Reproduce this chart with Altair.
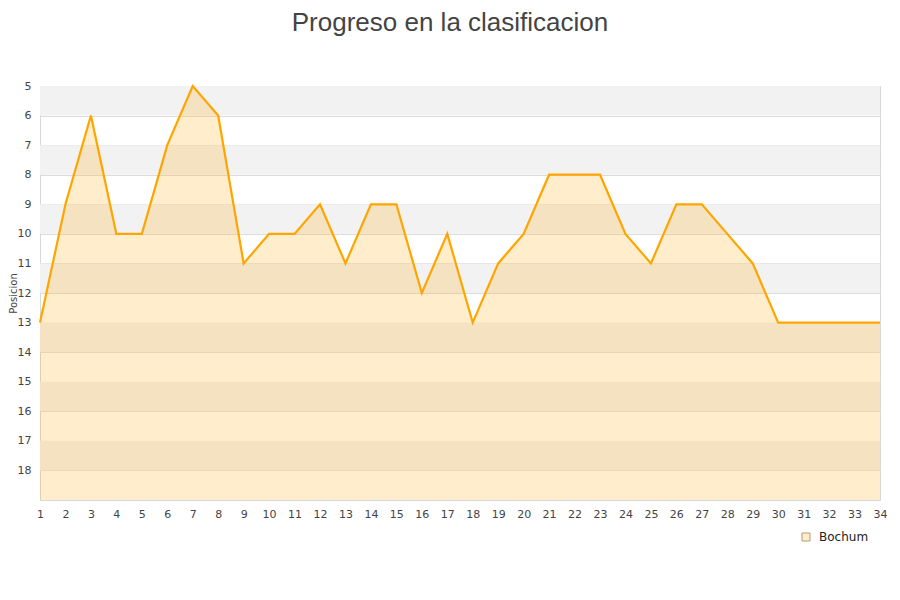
import altair as alt
import pandas as pd

jornadas = list(range(1, 35))
posiciones = [13, 9, 6, 10, 10, 7, 5, 6, 11, 10, 10, 9, 11, 9, 9, 12, 10, 13,
              11, 10, 8, 8, 8, 10, 11, 9, 9, 10, 11, 13, 13, 13, 13, 13]
equipo = "Bochum"
y_ticks = list(range(5, 19))
band_starts = [5, 7, 9, 11, 13, 15, 17]

df = pd.DataFrame({"Jornada": jornadas, "Posicion": posiciones, "Equipo": [equipo] * len(jornadas)})
bands = pd.DataFrame({"y": band_starts, "y2": [b + 1 for b in band_starts]})

W, H = 840, 414
xscale = alt.Scale(domain=[1, 34], nice=False, zero=False)
yscale = alt.Scale(domain=[19, 5], nice=False, zero=False)

yaxis = alt.Axis(values=y_ticks, title="Posicion", grid=True, gridColor="#dcdcdc",
                 ticks=False, domain=False, labelPadding=9, labelOverlap=False,
                 labelFlush=False, labelBound=False,
                 titleX=-26.5, titleY=H / 2, titleAngle=270, titleAlign="center",
                 titleBaseline="middle", titleFontSize=10)
xaxis = alt.Axis(values=jornadas, title=None, grid=False, ticks=False, domain=False,
                 labelPadding=8, labelOverlap=False, labelFlush=False, labelBound=False)

band_layer = alt.Chart(bands).mark_rect(color="#f2f2f2").encode(
    x=alt.value(0), x2=alt.value(W),
    y=alt.Y("y:Q", scale=yscale, axis=yaxis),
    y2="y2:Q",
)

area = alt.Chart(df).mark_area(color="#FFA500", opacity=0.2).encode(
    x=alt.X("Jornada:Q", scale=xscale, axis=xaxis),
    y=alt.Y("Posicion:Q", scale=yscale, axis=yaxis),
    y2=alt.datum(19),
)

line = alt.Chart(df).mark_line(color="#FFA500", strokeWidth=2.2).encode(
    x=alt.X("Jornada:Q", scale=xscale, axis=xaxis),
    y=alt.Y("Posicion:Q", scale=yscale, axis=yaxis),
)

legend_layer = alt.Chart(df).mark_point(opacity=0).encode(
    x=alt.X("Jornada:Q", scale=xscale, axis=xaxis),
    y=alt.Y("Posicion:Q", scale=yscale, axis=yaxis),
    fill=alt.Fill("Equipo:N",
                  scale=alt.Scale(domain=[equipo], range=["#FFEDCC"]),
                  legend=alt.Legend(title=None, orient="none", legendX=760, legendY=445,
                                    symbolType="square", symbolSize=64, symbolStrokeColor="#b39a7a",
                                    symbolStrokeWidth=1, symbolOpacity=1, labelFontSize=12,
                                    labelFont="DejaVu Sans", labelColor="#222", labelOffset=7)),
)

chart = alt.layer(band_layer, area, line, legend_layer).properties(
    width=W, height=H,
    title=alt.TitleParams("Progreso en la clasificacion", fontSize=26, font="Liberation Sans",
                          fontWeight="normal", color="#444", anchor="middle", dx=-10, offset=44),
    autosize=alt.AutoSizeParams(type="none"),
    padding={"left": 32, "top": 78, "right": 12, "bottom": 90},
).configure_view(stroke="#d8d8d8", strokeWidth=1).configure_axis(
    labelFontSize=11, labelColor="#444",
    labelFont="DejaVu Sans", titleFont="DejaVu Sans",
    titleFontWeight="normal", titleColor="#444",
)

chart.save("out.html", embed_options={"renderer": "svg", "actions": False})
